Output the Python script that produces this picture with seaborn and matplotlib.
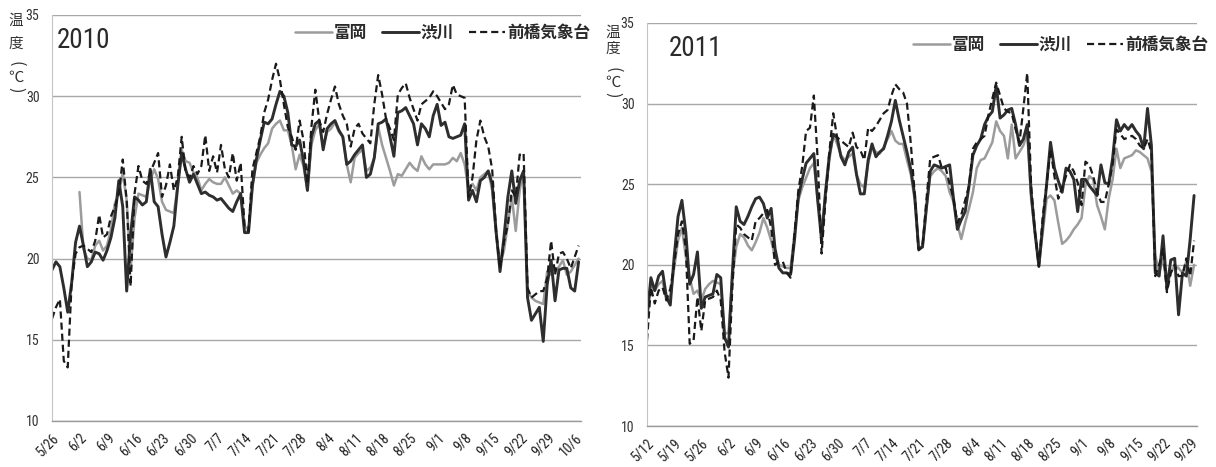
import numpy as np
import pandas as pd
import matplotlib
matplotlib.use("Agg")
import matplotlib.pyplot as plt
import seaborn as sns
from matplotlib import font_manager

NaN = np.nan

# Daily mean temperature (°C), one value per day from the first date of each season
stations = ["富岡", "渋川", "前橋気象台"]

start_2010 = "5/26"
tomioka_2010 = [
    NaN, NaN, NaN, NaN, NaN, NaN, NaN, 24.1, 20.6, 20.0,
    19.9, 20.8, 21.1, 20.5, 20.8, 21.8, 23.4, 24.0, 25.3, 23.6,
    19.3, 22.5, 24.0, 23.9, 23.8, 24.8, 25.5, 24.9, 23.5, 23.0,
    22.9, 22.8, 24.5, 26.7, 26.0, 25.9, 25.3, 25.0, 24.2, 24.6,
    24.9, 24.7, 24.6, 24.6, 25.0, 24.5, 24.0, 24.2, 24.0, 22.0,
    21.8, 24.5, 25.9, 26.4, 26.8, 27.1, 28.0, 28.3, 28.5, 27.9,
    27.9, 27.0, 25.5, 26.4, 25.7, 24.2, 27.0, 27.9, 28.3, 26.9,
    27.8, 28.0, 28.4, 27.8, 27.5, 25.8, 24.7, 26.2, 26.5, 26.7,
    25.4, 25.6, 26.2, 28.1, 27.0, 26.2, 25.4, 24.5, 25.2, 25.1,
    25.5, 25.9, 25.6, 25.4, 26.3, 25.8, 25.5, 25.8, 25.8, 25.8,
    25.8, 25.9, 26.2, 26.0, 26.5, 25.8, 24.2, 24.6, 24.2, 25.0,
    25.2, 25.4, 24.2, 21.5, 19.6, 20.5, 22.1, 23.8, 21.7, 24.2,
    25.4, 18.0, 17.6, 17.4, 17.3, 17.2, 19.2, 19.0, 19.2, 19.5,
    19.9, 19.0, 19.2, 19.6, 20.0,
]
shibukawa_2010 = [
    19.3, 19.8, 19.5, 18.2, 16.7, 18.5, 21.0, 22.0, 20.8, 19.5,
    19.8, 20.4, 20.3, 19.9, 20.5, 21.3, 22.5, 24.8, 23.2, 18.0,
    21.5, 23.8, 23.6, 23.3, 23.5, 25.5, 23.5, 23.2, 21.5, 20.1,
    21.0, 22.0, 24.5, 26.5, 25.5, 24.7, 25.2, 24.6, 24.0, 24.1,
    23.9, 23.8, 23.6, 23.7, 23.4, 23.1, 22.9, 23.5, 24.0, 21.6,
    21.6, 24.5, 26.1, 27.3, 28.4, 28.3, 28.6, 29.5, 30.3, 30.0,
    29.0, 27.0, 26.9, 27.3, 26.0, 24.2, 27.5, 28.3, 28.5, 26.7,
    28.0, 28.3, 28.5, 27.9, 27.5, 25.8, 26.0, 26.4, 26.7, 27.0,
    25.0, 25.2, 26.2, 28.3, 28.4, 28.6, 27.5, 26.3, 29.0, 29.1,
    29.3, 28.8, 28.3, 27.0, 28.3, 28.0, 27.5, 28.8, 29.5, 28.2,
    28.4, 27.5, 27.4, 27.5, 27.6, 28.3, 23.6, 24.2, 23.5, 24.8,
    25.0, 25.4, 24.6, 21.7, 19.2, 21.3, 23.8, 25.4, 23.4, 24.8,
    25.4, 17.6, 16.2, 16.6, 17.0, 14.9, 18.4, 19.9, 17.4, 19.3,
    19.4, 19.4, 18.2, 18.0, 19.8,
]
maebashi_2010 = [
    16.3, 17.0, 17.5, 13.7, 13.3, 18.5, 20.3, 20.7, 20.8, 20.6,
    20.4, 21.1, 22.7, 21.3, 21.5, 22.6, 23.2, 24.0, 26.1, 23.6,
    18.3, 24.0, 25.7, 24.8, 24.6, 25.3, 25.9, 26.5, 23.8, 24.5,
    25.8, 24.2, 25.0, 27.5, 25.3, 25.0, 25.7, 25.2, 25.7, 27.6,
    25.4, 26.3, 25.3, 27.0, 25.5, 25.0, 26.5, 24.8, 25.9, 22.0,
    21.7, 25.5, 26.5, 27.5, 29.0, 29.8, 31.0, 32.0, 31.0, 29.5,
    28.1, 27.5, 26.7, 28.5, 27.3, 24.6, 28.1, 30.4, 28.5, 27.8,
    28.9, 29.8, 30.6, 29.5, 28.8, 28.3, 26.9, 28.0, 28.3, 27.7,
    27.4, 27.1, 29.5, 31.3, 30.1, 28.6, 28.0, 27.3, 30.1, 30.5,
    30.8, 29.9, 29.2, 28.5, 29.5, 29.7, 29.9, 30.3, 30.0, 29.6,
    29.2, 29.5, 30.7, 30.1, 30.0, 29.9, 23.8, 25.0, 27.3, 28.5,
    27.5, 26.9, 25.5, 21.7, 19.4, 21.0, 22.1, 24.2, 23.8, 26.4,
    26.5, 18.2, 17.6, 17.8, 18.0, 18.0, 18.8, 21.1, 19.0, 20.3,
    20.4, 20.0, 19.4, 20.1, 20.8,
]

start_2011 = "5/12"
tomioka_2011 = [
    16.7, 18.8, 18.4, 18.8, 19.0, 17.8, 18.0, 19.8, 21.5, 22.3,
    20.5, 19.2, 18.2, 18.4, 17.8, 18.5, 18.8, 19.0, 18.9, 18.8,
    15.7, 15.8, 19.2, 21.1, 21.9, 21.7, 21.2, 20.9, 21.4, 22.0,
    22.9, 22.3, 21.5, 20.5, 20.0, 19.9, 19.8, 19.8, 21.9, 24.0,
    24.8, 25.4, 26.0, 26.3, 24.0, 22.1, 24.4, 26.5, 28.1, 27.5,
    26.8, 26.5, 26.7, 26.9, 25.6, 25.0, 24.8, 26.3, 27.3, 27.0,
    26.9, 27.3, 27.8, 28.3, 27.7, 27.5, 27.5, 26.5, 25.6, 24.0,
    21.1, 21.1, 23.5, 25.5, 25.8, 26.0, 25.8, 25.5, 24.5, 23.9,
    22.5, 21.6, 22.6, 23.5, 24.5, 26.0, 26.5, 26.6, 27.1, 27.6,
    28.9, 28.3, 28.0, 26.6, 28.7, 26.6, 27.0, 27.4, 28.2, 24.1,
    22.0, 20.0, 22.0, 24.1, 24.3, 24.0, 22.6, 21.3, 21.5, 21.8,
    22.2, 22.5, 22.9, 24.9, 25.5, 25.3, 23.7, 23.0, 22.2, 24.1,
    25.3, 27.2, 26.0, 26.6, 26.7, 26.8, 27.1, 27.0, 26.8, 26.6,
    25.8, 20.6, 19.5, 20.4, 18.7, 19.5, 20.0, 19.8, 19.5, 20.2,
    18.7, 20.0,
]
shibukawa_2011 = [
    16.7, 19.2, 18.4, 19.3, 19.6, 18.0, 17.5, 20.5, 23.0, 24.0,
    22.0, 18.8, 19.4, 20.8, 17.3, 18.0, 18.1, 18.2, 19.4, 19.2,
    15.5, 14.9, 19.5, 23.6, 22.7, 22.5, 23.0, 23.6, 24.1, 24.2,
    23.8, 22.9, 23.5, 21.0, 19.8, 19.5, 19.5, 19.4, 21.5, 24.2,
    25.3, 26.3, 26.6, 26.9, 24.0, 21.5, 24.5, 26.8, 28.1, 27.9,
    26.7, 26.2, 27.0, 27.3, 25.6, 24.4, 24.4, 26.5, 27.5, 26.7,
    27.0, 27.2, 28.0, 28.9, 30.2, 29.0, 28.0, 27.0, 25.9, 24.3,
    21.0, 21.1, 23.5, 25.8, 26.2, 26.1, 26.0, 26.1, 26.2, 24.1,
    22.2, 22.8, 23.3, 24.9, 26.8, 27.4, 27.8, 28.7, 29.2, 29.5,
    31.1, 29.1, 29.3, 29.6, 29.7, 28.7, 27.4, 27.8, 28.7, 24.5,
    22.0, 19.9, 22.5, 25.0, 27.6, 26.0, 25.2, 24.5, 26.0, 25.8,
    25.3, 23.3, 25.3, 25.3, 24.9, 24.6, 24.3, 26.2, 25.1, 25.0,
    26.6, 29.0, 28.3, 28.7, 28.4, 28.7, 28.3, 28.0, 27.2, 29.7,
    27.4, 19.5, 19.3, 21.8, 18.5, 20.3, 20.4, 16.9, 19.5, 19.3,
    21.6, 24.3,
]
maebashi_2011 = [
    15.3, 18.6, 17.6, 18.4, 18.6, 17.8, 18.5, 20.0, 21.9, 22.7,
    21.0, 15.1, 15.3, 18.0, 15.9, 17.8, 17.9, 18.0, 18.4, 17.8,
    14.6, 13.0, 18.6, 22.5, 22.3, 21.9, 21.7, 21.5, 22.7, 22.9,
    23.2, 23.4, 22.3, 20.0, 20.2, 20.2, 19.5, 19.2, 21.9, 24.6,
    26.1, 28.3, 28.5, 30.5, 26.5, 20.7, 24.0, 27.0, 29.4, 27.9,
    27.7, 27.5, 27.3, 28.2, 27.3, 27.1, 26.5, 28.5, 28.3, 28.6,
    29.0, 29.4, 29.6, 30.5, 31.2, 30.9, 30.7, 30.0, 27.5, 24.4,
    20.9, 21.1, 24.0, 26.6, 26.7, 26.8, 26.0, 26.0, 25.0, 24.1,
    22.6, 23.1, 24.0, 24.9, 27.2, 27.6, 27.8, 28.0, 29.3, 30.3,
    31.3, 30.5, 29.7, 29.5, 29.4, 28.4, 27.6, 29.7, 31.9, 24.9,
    22.0, 19.9, 23.0, 25.0, 27.2, 25.5, 24.1, 24.8, 25.5, 26.2,
    25.8, 25.1, 23.7, 26.4, 26.2, 25.5, 24.5, 23.9, 23.9, 25.0,
    26.2, 28.4, 28.1, 27.8, 27.9, 28.0, 27.8, 27.4, 27.2, 27.8,
    27.0, 19.3, 20.0, 21.0, 18.3, 19.5, 20.0, 19.3, 19.3, 20.4,
    19.3, 21.5,
]

# Weekly tick labels (every 7th day)
ticks_2010 = ["5/26", "6/2", "6/9", "6/16", "6/23", "6/30", "7/7", "7/14", "7/21",
              "7/28", "8/4", "8/11", "8/18", "8/25", "9/1", "9/8", "9/15", "9/22",
              "9/29", "10/6"]
ticks_2011 = ["5/12", "5/19", "5/26", "6/2", "6/9", "6/16", "6/23", "6/30", "7/7",
              "7/14", "7/21", "7/28", "8/4", "8/11", "8/18", "8/25", "9/1", "9/8",
              "9/15", "9/22", "9/29"]
y_ticks = [10, 15, 20, 25, 30, 35]

sns.set_style("white")
cjk = "Noto Sans CJK JP"
available = {f.name for f in font_manager.fontManager.ttflist}
narrow = next((n for n in ["Liberation Sans Narrow", "Roboto Condensed", "DejaVu Sans"]
               if n in available), "DejaVu Sans")
plt.rcParams["font.family"] = [narrow, cjk, "DejaVu Sans"]

line_color = {"富岡": "#9c9c9c", "渋川": "#2e2e2e", "前橋気象台": "#1a1a1a"}
line_width = {"富岡": 1.8, "渋川": 2.1, "前橋気象台": 1.6}
line_style = {"富岡": "-", "渋川": "-", "前橋気象台": (0, (3.2, 1.8))}

fig = plt.figure(figsize=(12.16, 4.67), dpi=100)
W, H = 1216, 467


def caption(x, centers):
    """Vertical axis caption 温度（℃） stacked top to bottom."""
    parts = [("温", 0, 10.5), ("度", 0, 10.5), ("(", -90, 11.5), ("℃", 0, 11), (")", -90, 11.5)]
    for (ch, rot, size), cy in zip(parts, centers):
        fig.text(x / W, 1 - cy / H, ch, ha="center", va="center", rotation=rot,
                 fontsize=size, color="#333333", family=[cjk, "DejaVu Sans"])


def panel(rect_px, year_label, series, tick_labels, title_xy, legend_xy, px_per_day):
    x0, y_top, x1, y_bot = rect_px
    ax = fig.add_axes([x0 / W, 1 - y_bot / H, (x1 - x0) / W, (y_bot - y_top) / H])
    n = len(series[0])
    days = np.arange(n)
    frames = [pd.DataFrame({"day": days, "temp": vals, "station": name})
              for name, vals in zip(stations, series)]
    df = pd.concat(frames, ignore_index=True)
    for name in stations:
        sns.lineplot(data=df[df["station"] == name], x="day", y="temp", ax=ax,
                     color=line_color[name], lw=line_width[name],
                     linestyle=line_style[name], label=name, legend=False,
                     solid_joinstyle="round")

    ax.set_xlim(0, (x1 - x0) / px_per_day)
    ax.set_ylim(10, 35)
    ax.set_yticks(y_ticks)
    ax.set_yticklabels([str(v) for v in y_ticks], fontsize=10, color="#333333")
    ax.set_xticks(np.arange(len(tick_labels)) * 7)
    ax.set_xticklabels(tick_labels, rotation=45, ha="right", rotation_mode="anchor",
                       fontsize=10, color="#222222")
    ax.set_xlabel("")
    ax.set_ylabel("")
    ax.grid(axis="y", color="#a8a8a8", lw=1.0)
    ax.grid(axis="x", visible=False)
    for s in ("top", "right"):
        ax.spines[s].set_visible(False)
    ax.spines["left"].set_color("#c4c4c4")
    ax.spines["left"].set_linewidth(0.8)
    ax.spines["bottom"].set_color("#9a9a9a")
    ax.spines["bottom"].set_linewidth(1.0)
    ax.tick_params(axis="x", length=4, color="#9a9a9a", pad=3)
    ax.tick_params(axis="y", length=3, color="#c4c4c4", pad=6)

    fig.text(title_xy[0] / W, 1 - title_xy[1] / H, year_label,
             fontsize=19.5, color="#2a2a2a", va="center", ha="left", family=[narrow])

    handles = ax.get_lines()[:3]
    leg = fig.legend(handles=handles, labels=stations, loc="center right",
                     bbox_to_anchor=(legend_xy[0] / W, 1 - legend_xy[1] / H),
                     bbox_transform=fig.transFigure, ncol=3, frameon=False,
                     handlelength=2.2, handletextpad=0.1, columnspacing=0.9,
                     borderpad=0, borderaxespad=0,
                     prop={"family": cjk, "weight": "bold", "size": 12})
    for t in leg.get_texts():
        t.set_color("#2a2a2a")
    return ax


panel((52, 15, 581, 421), "2010",
      [tomioka_2010, shibukawa_2010, maebashi_2010], ticks_2010,
      title_xy=(57, 40), legend_xy=(590, 33), px_per_day=3.93)
panel((647, 23, 1197, 426), "2011",
      [tomioka_2011, shibukawa_2011, maebashi_2011], ticks_2011,
      title_xy=(669, 48), legend_xy=(1208, 45), px_per_day=3.88)

caption(16, [21, 44, 64, 77, 90])
caption(613, [33, 49, 70, 82, 95])

fig.savefig("out.png", dpi=100, facecolor="white")
